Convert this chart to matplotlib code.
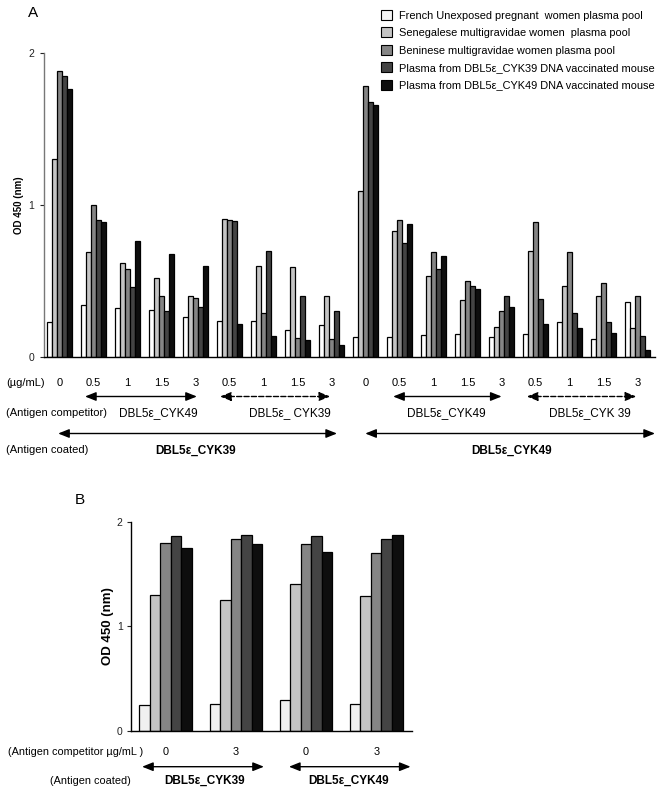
import matplotlib
matplotlib.use("Agg")
import matplotlib.pyplot as plt
import numpy as np

plt.rcParams['font.family'] = ['Liberation Sans', 'DejaVu Sans']

# ---------------- data ----------------
series_labels = [
    "French Unexposed pregnant  women plasma pool",
    "Senegalese multigravidae women  plasma pool",
    "Beninese multigravidae women plasma pool",
    "Plasma from DBL5\u03b5_CYK39 DNA vaccinated mouse",
    "Plasma from DBL5\u03b5_CYK49 DNA vaccinated mouse",
]
colors = ["#ffffff", "#c4c4c4", "#858585", "#444444", "#0e0e0e"]
colors_b = ["#f0f0f0", "#c4c4c4", "#858585", "#444444", "#0e0e0e"]

# Panel A: 18 groups (concentration of competitor)
conc_a = ["0", "0.5", "1", "1.5", "3", "0.5", "1", "1.5", "3",
          "0", "0.5", "1", "1.5", "3", "0.5", "1", "1.5", "3"]
french_a = [0.23, 0.34, 0.32, 0.31, 0.26, 0.24, 0.24, 0.18, 0.21,
            0.13, 0.13, 0.145, 0.15, 0.13, 0.15, 0.23, 0.12, 0.36]
senegal_a = [1.30, 0.69, 0.62, 0.52, 0.40, 0.91, 0.60, 0.59, 0.40,
             1.09, 0.83, 0.53, 0.375, 0.20, 0.70, 0.47, 0.40, 0.19]
benin_a = [1.88, 1.00, 0.58, 0.40, 0.39, 0.90, 0.29, 0.125, 0.12,
           1.785, 0.90, 0.69, 0.50, 0.30, 0.89, 0.69, 0.49, 0.40]
cyk39_a = [1.85, 0.90, 0.46, 0.30, 0.33, 0.895, 0.70, 0.40, 0.30,
           1.68, 0.75, 0.58, 0.47, 0.40, 0.38, 0.29, 0.23, 0.14]
cyk49_a = [1.76, 0.885, 0.76, 0.675, 0.60, 0.22, 0.14, 0.115, 0.08,
           1.655, 0.875, 0.665, 0.45, 0.33, 0.22, 0.19, 0.16, 0.045]

competitor_a = ["DBL5\u03b5_CYK49", "DBL5\u03b5_ CYK39", "DBL5\u03b5_CYK49", "DBL5\u03b5_CYK 39"]
coated_a = ["DBL5\u03b5_CYK39", "DBL5\u03b5_CYK49"]

# Panel B: 4 groups
conc_b = ["0", "3", "0", "3"]
french_b = [0.25, 0.255, 0.29, 0.26]
senegal_b = [1.30, 1.25, 1.40, 1.29]
benin_b = [1.80, 1.83, 1.785, 1.70]
cyk39_b = [1.86, 1.87, 1.865, 1.835]
cyk49_b = [1.745, 1.79, 1.71, 1.87]
coated_b = ["DBL5\u03b5_CYK39", "DBL5\u03b5_CYK49"]

# ---------------- layout ----------------
W, H = 661, 791
fig = plt.figure(figsize=(W / 100, H / 100), dpi=100)


def ax_rect(x0, y0, x1, y1):
    return [x0 / W, 1 - y1 / H, (x1 - x0) / W, (y1 - y0) / H]


def fy(ypx):
    return 1 - ypx / H


def draw_bars(ax, series, cols, width):
    n = len(series[0])
    x = np.arange(n)
    for j, (vals, c) in enumerate(zip(series, cols)):
        ax.bar(x + (j - 2) * width, vals, width=width, color=c,
               edgecolor="black", linewidth=0.9, align="center")


def style_axis(ax, spine_color, pad=4):
    for s in ["top", "right"]:
        ax.spines[s].set_visible(False)
    ax.spines["left"].set_color(spine_color)
    ax.spines["left"].set_linewidth(1.0)
    ax.spines["bottom"].set_color("black")
    ax.spines["bottom"].set_linewidth(1.0)
    ax.set_ylim(0, 2)
    ax.set_yticks([0, 1, 2])
    ax.set_yticklabels(["0", "1", "2"])
    ax.tick_params(axis="y", direction="out", length=3, width=0.8,
                   labelsize=7.5, pad=pad, colors="#222222")
    ax.set_xticks([])


def arrow(ax, x0, x1, ypx, dashed=False):
    ax.annotate("", xy=(x1, fy(ypx)), xytext=(x0, fy(ypx)),
                xycoords=("data", "figure fraction"),
                textcoords=("data", "figure fraction"),
                arrowprops=dict(arrowstyle="<|-|>,head_length=0.55,head_width=0.22",
                                mutation_scale=12, color="black", lw=1.0,
                                linestyle="--" if dashed else "-",
                                shrinkA=0, shrinkB=0),
                annotation_clip=False)


def text_at(ax, x, ypx, s, **kw):
    ax.annotate(s, xy=(x, fy(ypx)), xycoords=("data", "figure fraction"),
                ha=kw.pop("ha", "center"), va="center", annotation_clip=False, **kw)


# ---------------- Panel A ----------------
axA = fig.add_axes(ax_rect(44, 53, 655, 357))
wA = 0.15
draw_bars(axA, [french_a, senegal_a, benin_a, cyk39_a, cyk49_a], colors, wA)
axA.set_xlim(-0.456, 17.51)
style_axis(axA, "#777777")
axA.set_ylabel("OD 450 (nm)", fontsize=7, fontweight="bold", labelpad=3)

fig.text(33 / W, fy(13), "A", fontsize=11, ha="center", va="center")

# legend
handles = [plt.Rectangle((0, 0), 1, 1, facecolor=c, edgecolor="black", linewidth=0.8)
           for c in colors]
handles[0].set_facecolor("#f4f4f4")
fig.legend(handles, series_labels, loc="upper left",
           bbox_to_anchor=(381 / W, fy(10)), frameon=False, fontsize=7.9,
           handlelength=1.0, handleheight=1.0, handletextpad=0.6,
           labelspacing=0.62, borderpad=0, borderaxespad=0)

# row labels
fig.text(6 / W, fy(383), "(\u00b5g/mL)", fontsize=8, va="center", ha="left")
fig.text(6 / W, fy(413), "(Antigen competitor)", fontsize=8, va="center", ha="left")
fig.text(6 / W, fy(450), "(Antigen coated)", fontsize=8, va="center", ha="left")

for i, c in enumerate(conc_a):
    text_at(axA, i, 383, c, fontsize=8)

comp_spans = [(0.75, 4.04, False), (4.72, 7.96, True), (9.81, 13.0, False), (13.74, 16.96, True)]
comp_centers = [2.9, 6.78, 11.37, 15.6]
for (x0, x1, d), cx, lab in zip(comp_spans, comp_centers, competitor_a):
    arrow(axA, x0, x1, 396.5, dashed=d)
    text_at(axA, cx, 413, lab, fontsize=8.5)

coat_spans = [(-0.04, 8.16), (8.99, 17.51)]
coat_centers = [3.99, 13.3]
for (x0, x1), cx, lab in zip(coat_spans, coat_centers, coated_a):
    arrow(axA, x0, x1, 433.5)
    text_at(axA, cx, 450.5, lab, fontsize=8.5, fontweight="bold")

# ---------------- Panel B ----------------
axB = fig.add_axes(ax_rect(131, 521.7, 411.7, 730.7))
wB = 0.15
draw_bars(axB, [french_b, senegal_b, benin_b, cyk39_b, cyk49_b], colors_b, wB)
axB.set_xlim(-0.494, 3.506)
style_axis(axB, "black", pad=3)
axB.set_ylabel("OD 450 (nm)", fontsize=9.5, fontweight="bold", labelpad=2)

fig.text(80 / W, fy(500), "B", fontsize=11, ha="center", va="center")

fig.text(8 / W, fy(752), "(Antigen competitor \u00b5g/mL )", fontsize=7.8, va="center", ha="left")
fig.text(90 / W, fy(781), "(Antigen coated)", fontsize=7.8, va="center", ha="center")
for i, c in enumerate(conc_b):
    text_at(axB, i, 752, c, fontsize=7.8)

coat_b_spans = [(-0.336, 1.40), (1.757, 3.49)]
coat_b_centers = [0.56, 2.6]
for (x0, x1), cx, lab in zip(coat_b_spans, coat_b_centers, coated_b):
    arrow(axB, x0, x1, 766.7)
    text_at(axB, cx, 781, lab, fontsize=8.5, fontweight="bold")

fig.savefig("out.png", dpi=100)
